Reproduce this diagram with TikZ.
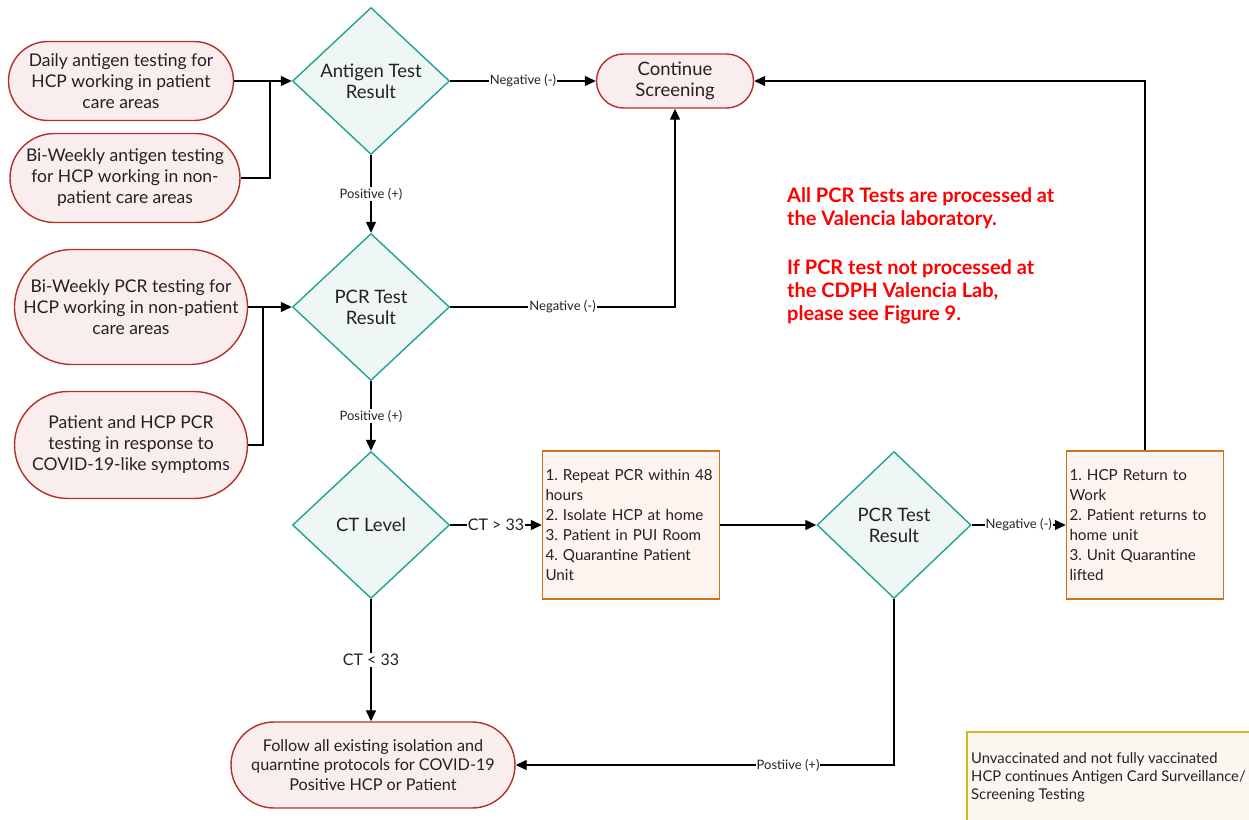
\documentclass[tikz,border=0pt]{standalone}
\usepackage{fontspec}
\setmainfont{Lato}
\usetikzlibrary{shapes.geometric,shapes.misc,arrows.meta}
\definecolor{termB}{HTML}{B5302A}
\definecolor{termF}{HTML}{F9EDED}
\definecolor{decB}{HTML}{1FA396}
\definecolor{decF}{HTML}{EEF7F4}
\definecolor{procB}{HTML}{C8761E}
\definecolor{procF}{HTML}{FDF3EF}
\definecolor{noteB}{HTML}{D9B41E}
\definecolor{noteF}{HTML}{FBF7F0}
\definecolor{redtxt}{HTML}{FF0000}
\definecolor{txt}{HTML}{222222}
\begin{document}
\frenchspacing
\begin{tikzpicture}[x=1pt,y=-1pt,
  term/.style={rounded rectangle, draw=termB, fill=termF, line width=1.4pt, align=center, inner sep=0pt, text=txt, font=\fontsize{17.5}{21}\selectfont},
  dec/.style={diamond, draw=decB, fill=decF, line width=1.4pt, align=center, inner sep=0pt, text=txt, minimum width=157pt, minimum height=147pt, font=\fontsize{18.5}{21}\selectfont},
  proc/.style={rectangle, draw=procB, fill=procF, line width=1.4pt, align=left, inner sep=3pt, text=txt, font=\fontsize{15.2}{20}\selectfont},
  conn/.style={draw=black, line width=1.3pt, -{Triangle[length=11pt,width=10pt]}},
  plain/.style={draw=black, line width=1.3pt},
  lbl/.style={fill=white, inner sep=1pt, text=txt, font=\fontsize{13}{14}\selectfont},
  lblb/.style={fill=white, inner sep=1pt, text=txt, font=\fontsize{16}{17}\selectfont},
]
\clip (0,0) rectangle (1249,819);
\fill[white] (0,0) rectangle (1249,819);

% nodes
\node[term, minimum width=225pt, minimum height=79pt] (a1) at (121,81) {Daily antigen testing for\\HCP working in patient\\care areas};
\node[term, minimum width=230pt, minimum height=89pt] (a2) at (125,178) {Bi-Weekly antigen testing\\for HCP working in non-\\patient care areas};
\node[dec] (ag) at (371,81) {Antigen Test\\Result};
\node[term, minimum width=157pt, minimum height=54pt, font=\fontsize{18.5}{21}\selectfont] (cs) at (675,81) {Continue\\Screening};
\node[term, minimum width=233pt, minimum height=115pt] (b1) at (131,307) {Bi-Weekly PCR testing for\\HCP working in non-patient\\care areas};
\node[term, minimum width=233pt, minimum height=107pt] (b2) at (131,445) {Patient and HCP PCR\\testing in response to\\COVID-19-like symptoms};
\node[dec] (p1) at (371,307) {PCR Test\\Result};
\node[dec] (ct) at (371,525) {CT Level};
\node[proc, minimum width=177pt, minimum height=148pt, text width=171pt] (r1) at (631,525) {1. Repeat PCR within 48\\hours\\2. Isolate HCP at home\\3. Patient in PUI Room\\4. Quarantine Patient\\Unit};
\node[dec, minimum width=154pt] (p2) at (894,525) {PCR Test\\Result};
\node[proc, minimum width=157pt, minimum height=148pt, text width=151pt] (r2) at (1145,525) {1. HCP Return to\\Work\\2. Patient returns to\\home unit\\3. Unit Quarantine\\lifted};
\node[term, minimum width=284pt, minimum height=86pt, font=\fontsize{16.2}{19.5}\selectfont] (fo) at (373,765) {Follow all existing isolation and\\quarntine protocols for COVID-19\\Positive HCP or Patient};

\node[anchor=base west, align=left, inner sep=0pt, text=redtxt, font=\bfseries\fontsize{20}{23}\selectfont] (redn) at (787,320) {All PCR Tests are processed at\\the Valencia laboratory.\\[26pt]If PCR test not processed at\\the CDPH Valencia Lab,\\please see Figure 9.};

\fill[noteF] (967,732) rectangle (1260,830);
\draw[noteB, line width=1.4pt] (1260,732) -- (967,732) -- (967,830);
\node[anchor=base west, align=left, inner sep=0pt, text=txt, font=\fontsize{14.8}{18}\selectfont] (note) at (971,799.5) {Unvaccinated and not fully vaccinated\\HCP continues Antigen Card Surveillance/\\Screening Testing};

% junctions
\coordinate (j1) at (270,81);
\coordinate (j2) at (263,307);

% connectors
\draw[conn] (a1.east) -- (ag.west);
\draw[plain] (a2.east) -| (j1);
\draw[conn] (b1.east) -- (p1.west);
\draw[plain] (b2.east) -| (j2);
\draw[conn] (ag.east) -- node[lbl] {Negative (-)} (cs.west);
\draw[conn] (ag.south) -- node[lbl] {Positive (+)} (p1.north);
\draw[conn] (p1.east) -| node[lbl, pos=0.25] {Negative (-)} (cs.south);
\draw[conn] (p1.south) -- node[lbl] {Positive (+)} (ct.north);
\draw[conn] (ct.east) -- node[lblb] {CT > 33} (r1.west);
\draw[conn] (r1.east) -- (p2.west);
\draw[conn] (p2.east) -- node[lbl] {Negative (-)} (r2.west);
\draw[conn] (r2.north) |- (cs.east);
\draw[conn] (ct.south) -- node[lblb] {CT < 33} (ct.south |- fo.north);
\draw[conn] (p2.south) |- node[lbl, pos=0.64] {Postiive (+)} (fo.east);
\end{tikzpicture}
\end{document}
